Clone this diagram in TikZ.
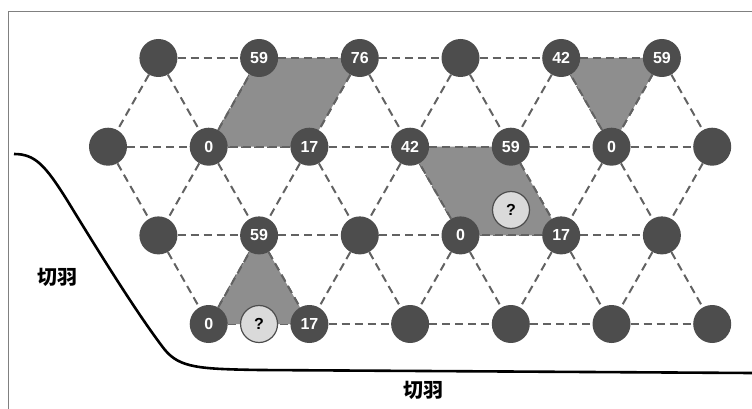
\documentclass[tikz,border=0pt]{standalone}
\usepackage{fontspec}
\setmainfont{Liberation Sans}
\newfontfamily\cjk{Noto Sans CJK SC}
\usetikzlibrary{backgrounds}
\definecolor{dot}{HTML}{4D4D4D}
\definecolor{shade}{HTML}{8E8E8E}
\definecolor{qfill}{HTML}{DADADA}
\definecolor{edgec}{HTML}{626262}
\begin{document}
\begin{tikzpicture}[x=1pt,y=-1pt,
  site/.style={circle,fill=dot,minimum size=38pt,inner sep=0pt,text=white,font=\fontsize{16}{16}\selectfont\bfseries},
  qsite/.style={circle,fill=qfill,draw=dot,line width=1.2pt,minimum size=37pt,inner sep=0pt,text=black,font=\fontsize{16}{16}\selectfont\bfseries},
  link/.style={draw=edgec,dash pattern=on 8pt off 5pt,line width=2pt},
  region/.style={fill=shade},
  cjktext/.style={font=\cjk\bfseries\fontsize{20}{20}\selectfont,inner sep=0pt}]
\useasboundingbox (0,0) rectangle (752,409);
\draw[gray,line width=1pt] (8,409) -- (8,12) -- (752,12);
% row 1
\node[site] (a1) at (158.4,58) {};
\node[site] (a2) at (259.1,58) {59};
\node[site] (a3) at (359.8,58) {76};
\node[site] (a4) at (460.5,58) {};
\node[site] (a5) at (561.2,58) {42};
\node[site] (a6) at (661.9,58) {59};
% row 2
\node[site] (b1) at (108.0,146.7) {};
\node[site] (b2) at (208.7,146.7) {0};
\node[site] (b3) at (309.4,146.7) {17};
\node[site] (b4) at (410.1,146.7) {42};
\node[site] (b5) at (510.8,146.7) {59};
\node[site] (b6) at (611.5,146.7) {0};
\node[site] (b7) at (712.2,146.7) {};
% row 3
\node[site] (c1) at (158.4,235.4) {};
\node[site] (c2) at (259.1,235.4) {59};
\node[site] (c3) at (359.8,235.4) {};
\node[site] (c4) at (460.5,235.4) {0};
\node[site] (c5) at (561.2,235.4) {17};
\node[site] (c6) at (661.9,235.4) {};
% row 4
\node[site] (d2) at (208.7,324) {0};
\node[site] (d3) at (309.4,324) {17};
\node[site] (d4) at (410.1,324) {};
\node[site] (d5) at (510.8,324) {};
\node[site] (d6) at (611.5,324) {};
\node[site] (d7) at (712.2,324) {};
% unknowns
\node[qsite] (q1) at (259.05,324) {?};
\node[qsite] (q2) at (511,210) {?};
\begin{scope}[on background layer]
\foreach \i/\j in {1/2,2/3,3/4,4/5,5/6} {
  \path[link] (a\i) -- (a\j);
  \path[link] (c\i) -- (c\j);
  \path[link] (a\i) -- (b\i);
  \path[link] (a\i) -- (b\j);
  \path[link] (b\j) -- (c\i);
  \path[link] (b\i) -- (c\i);
  \path[link] (c\i) -- (d\j);
}
\path[link] (a6) -- (b6);
\path[link] (a6) -- (b7);
\path[link] (b6) -- (c6);
\path[link] (b7) -- (c6);
\path[link] (b6) -- (b7);
\path[link] (c6) -- (d7);
\foreach \i/\j in {1/2,2/3,3/4,4/5,5/6} \path[link] (b\i) -- (b\j);
\foreach \i/\j in {2/3,3/4,4/5,5/6,6/7} \path[link] (d\i) -- (d\j);
\foreach \i in {2,3,4,5,6} \path[link] (c\i) -- (d\i);
% shaded regions over the inner links
\fill[region] (b2.center) -- (a2.center) -- (a3.center) -- (b3.center) -- cycle;
\fill[region] (a5.center) -- (a6.center) -- (b6.center) -- cycle;
\fill[region] (b4.center) -- (b5.center) -- (c5.center) -- (c4.center) -- cycle;
\fill[region] (c2.center) -- (d3.center) -- (d2.center) -- cycle;
% region borders
\path[link] (b2) -- (a2); \path[link] (a2) -- (a3); \path[link] (a3) -- (b3); \path[link] (b3) -- (b2);
\path[link] (a5) -- (a6); \path[link] (a6) -- (b6); \path[link] (b6) -- (a5);
\path[link] (b4) -- (b5); \path[link] (b5) -- (c5); \path[link] (c5) -- (c4); \path[link] (c4) -- (b4);
\path[link] (c2) -- (d3); \path[link] (d2) -- (c2);
\end{scope}
\draw[line width=2.6pt,line join=round] (14,154) .. controls (35,154) and (45,165) .. (67,200)
  .. controls (100,254) and (140,318) .. (165,350)
  .. controls (180,368) and (200,369) .. (260,370) -- (752,373);
\node[cjktext] (t1) at (57,277) {切羽};
\node[cjktext] (t2) at (423,390) {切羽};
\end{tikzpicture}
\end{document}
